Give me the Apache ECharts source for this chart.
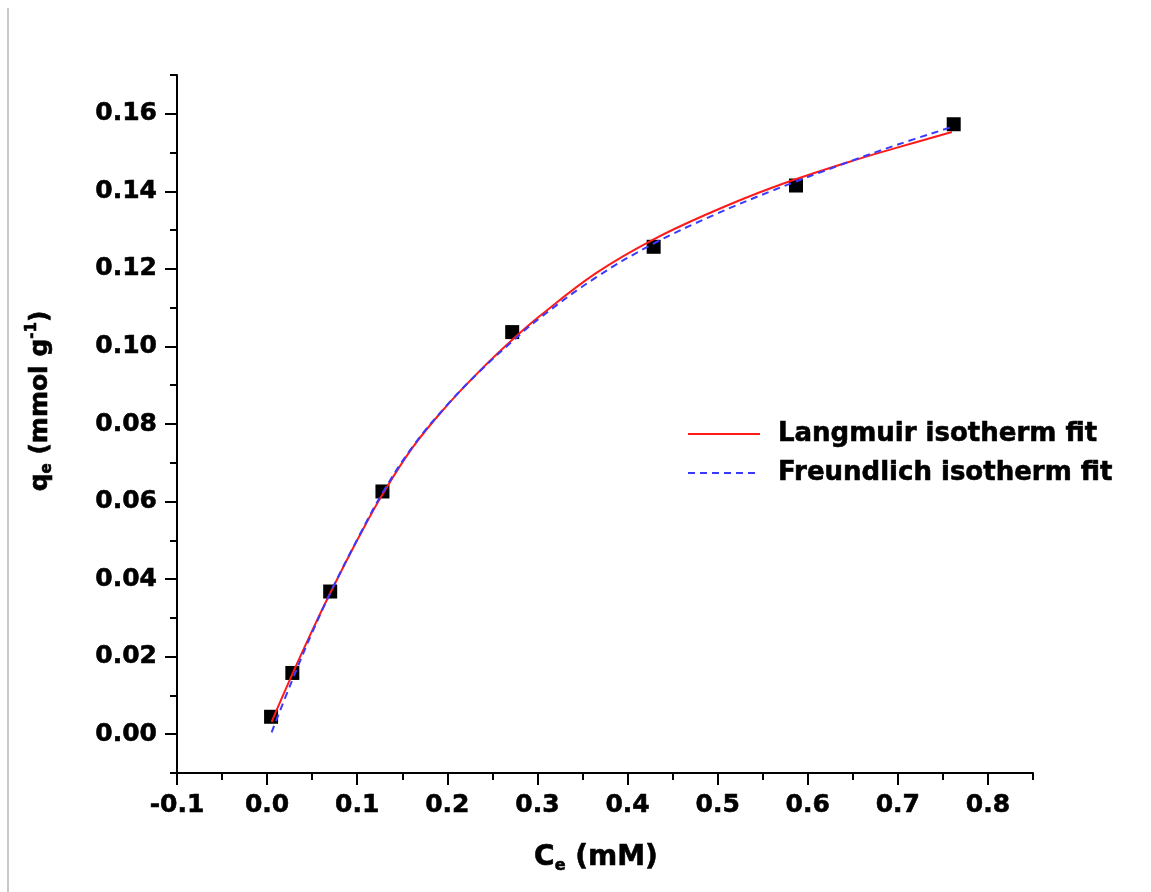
<!DOCTYPE html>
<html>
<head>
<meta charset="utf-8">
<style>
  html, body { margin: 0; padding: 0; background: #ffffff; }
  #chart { width: 1151px; height: 892px; }
</style>
<script src="https://cdn.jsdelivr.net/npm/echarts@6/dist/echarts.min.js"></script>
</head>
<body>
<div id="chart"></div>
<script>
// ---- data ----
const xTicks = [-0.1, 0.0, 0.1, 0.2, 0.3, 0.4, 0.5, 0.6, 0.7, 0.8];
const xMinorTicks = [-0.05, 0.05, 0.15, 0.25, 0.35, 0.45, 0.55, 0.65, 0.75, 0.85];
const yTicks = [0.00, 0.02, 0.04, 0.06, 0.08, 0.10, 0.12, 0.14, 0.16];
const yMinorTicks = [-0.01, 0.01, 0.03, 0.05, 0.07, 0.09, 0.11, 0.13, 0.15, 0.17];

const ceData = [0.0044, 0.028, 0.070, 0.128, 0.272, 0.429, 0.587, 0.762];
const qeData = [0.0045, 0.0158, 0.0368, 0.0626, 0.1037, 0.1257, 0.1415, 0.1573];

const fitX = [0.005, 0.028, 0.05, 0.0705, 0.102, 0.1285, 0.162, 0.199, 0.236, 0.273, 0.303, 0.365, 0.428, 0.495, 0.561, 0.642, 0.698, 0.760];
const langmuirY = [0.0032, 0.0155, 0.0267, 0.0366, 0.0509, 0.0620, 0.0741, 0.0846, 0.0937, 0.1019, 0.1079, 0.1189, 0.1275, 0.1348, 0.1410, 0.1473, 0.1512, 0.1553];
const freundlichY = [0.0005, 0.0140, 0.0262, 0.0366, 0.0511, 0.0624, 0.0743, 0.0847, 0.0936, 0.1015, 0.1074, 0.1178, 0.1264, 0.1338, 0.1402, 0.1473, 0.1519, 0.1566];

const seriesNames = ['Langmuir isotherm fit', 'Freundlich isotherm fit'];

// ---- chart ----
const FONT = '"DejaVu Sans", "Liberation Sans", Arial, sans-serif';
const chart = echarts.init(document.getElementById('chart'), null, { renderer: 'canvas' });

const pairs = (xs, ys) => xs.map((x, i) => [x, ys[i]]);
const heavy = { textBorderColor: '#000', textBorderWidth: 0.6 };
const heavyZr = { stroke: '#000', lineWidth: 0.6 };

const option = {
  backgroundColor: '#ffffff',
  animation: false,
  grid: { left: 177, right: 118, top: 75, bottom: 119, containLabel: false },
  legend: {
    orient: 'vertical',
    left: 687,
    top: 419,
    padding: 0,
    itemWidth: 72,
    itemHeight: 14,
    itemGap: 9,
    data: seriesNames,
    itemStyle: { opacity: 0 },
    textStyle: Object.assign({ fontFamily: FONT, fontWeight: 'bold', fontSize: 26, color: '#000', lineHeight: 30, padding: [0, 0, 0, 13] }, heavy)
  },
  xAxis: [
    {
      type: 'value', min: -0.1, max: 0.85,
      axisLine: { show: true, onZero: false, lineStyle: { color: '#000', width: 2 } },
      axisTick: { show: true, inside: false, length: 12, lineStyle: { color: '#000', width: 2 }, customValues: xTicks },
      axisLabel: Object.assign({ show: true, margin: 20, fontFamily: FONT, fontWeight: 'bold', fontSize: 25, color: '#000',
        customValues: xTicks, formatter: v => v.toFixed(1) }, heavy),
      splitLine: { show: false }
    },
    {
      type: 'value', min: -0.1, max: 0.85, position: 'bottom',
      axisLine: { show: false, onZero: false },
      axisTick: { show: true, inside: false, length: 7, lineStyle: { color: '#000', width: 2 }, customValues: xMinorTicks },
      axisLabel: { show: false },
      splitLine: { show: false }
    }
  ],
  yAxis: [
    {
      type: 'value', min: -0.01, max: 0.17,
      axisLine: { show: true, onZero: false, lineStyle: { color: '#000', width: 2 } },
      axisTick: { show: true, inside: false, length: 12, lineStyle: { color: '#000', width: 2 }, customValues: yTicks },
      axisLabel: Object.assign({ show: true, margin: 20, fontFamily: FONT, fontWeight: 'bold', fontSize: 25, color: '#000',
        customValues: yTicks, formatter: v => v.toFixed(2) }, heavy),
      splitLine: { show: false }
    },
    {
      type: 'value', min: -0.01, max: 0.17, position: 'left',
      axisLine: { show: false, onZero: false },
      axisTick: { show: true, inside: false, length: 7, lineStyle: { color: '#000', width: 2 }, customValues: yMinorTicks },
      axisLabel: { show: false },
      splitLine: { show: false }
    }
  ],
  series: [
    {
      name: 'data', type: 'scatter', xAxisIndex: 0, yAxisIndex: 0,
      symbol: 'rect', symbolSize: 14,
      itemStyle: { color: '#000000', opacity: 1 },
      data: pairs(ceData, qeData), z: 3
    },
    {
      name: seriesNames[0], type: 'line', xAxisIndex: 0, yAxisIndex: 0,
      smooth: 0.4, symbol: 'none', showSymbol: false,
      lineStyle: { color: '#ff1a1a', width: 2 },
      itemStyle: { color: '#ff1a1a' },
      data: pairs(fitX, langmuirY), z: 4
    },
    {
      name: seriesNames[1], type: 'line', xAxisIndex: 0, yAxisIndex: 0,
      smooth: 0.4, symbol: 'none', showSymbol: false,
      lineStyle: { color: '#3a3aff', width: 2, type: [7, 5] },
      itemStyle: { color: '#3a3aff' },
      data: pairs(fitX, freundlichY), z: 5
    }
  ],
  graphic: [
    {
      type: 'line', shape: { x1: 8, y1: 8, x2: 8, y2: 892 },
      style: { stroke: '#c8c8c8', lineWidth: 2 }
    },
    {
      type: 'text', x: 596, y: 858,
      style: {
        text: '{a|C}{s|e}{a| (mM)}',
        align: 'center', verticalAlign: 'middle',
        rich: {
          a: Object.assign({ fontFamily: FONT, fontWeight: 'bold', fontSize: 28, fill: '#000', lineHeight: 32 }, heavyZr),
          s: Object.assign({ fontFamily: FONT, fontWeight: 'bold', fontSize: 16, fill: '#000', lineHeight: 10, verticalAlign: 'bottom' }, heavyZr)
        }
      }
    },
    {
      type: 'text', x: 40, y: 401, rotation: Math.PI / 2,
      style: {
        text: '{a|q}{s|e}{a| (mmol g}{p|-1}{a|)}',
        align: 'center', verticalAlign: 'middle',
        rich: {
          a: Object.assign({ fontFamily: FONT, fontWeight: 'bold', fontSize: 25, fill: '#000', lineHeight: 30 }, heavyZr),
          s: Object.assign({ fontFamily: FONT, fontWeight: 'bold', fontSize: 15, fill: '#000', lineHeight: 10, verticalAlign: 'bottom' }, heavyZr),
          p: Object.assign({ fontFamily: FONT, fontWeight: 'bold', fontSize: 15, fill: '#000', lineHeight: 16, verticalAlign: 'top' }, heavyZr)
        }
      }
    }
  ]
};
chart.setOption(option);
</script>
</body>
</html>
